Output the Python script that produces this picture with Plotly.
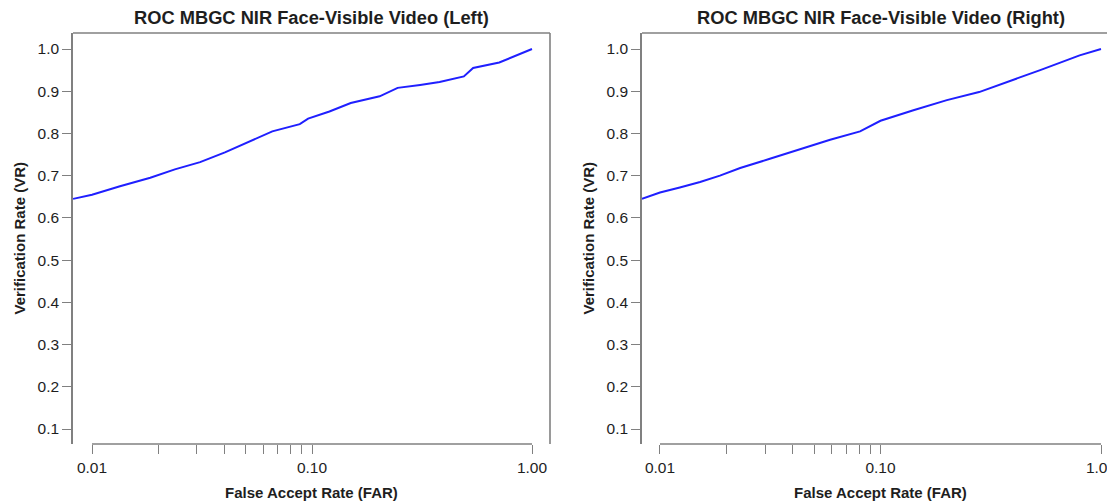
import math
import plotly.graph_objs as go
from plotly.subplots import make_subplots

# Left eye curve (FAR, VR)
far_left = [0.0082, 0.01, 0.0134, 0.0184, 0.0238, 0.031, 0.0402, 0.052, 0.066, 0.088,
            0.096, 0.12, 0.15, 0.203, 0.245, 0.31, 0.38, 0.49, 0.54, 0.71, 1.0]
vr_left = [0.645, 0.655, 0.675, 0.695, 0.715, 0.732, 0.755, 0.780, 0.805, 0.822,
           0.835, 0.852, 0.872, 0.888, 0.908, 0.915, 0.922, 0.935, 0.955, 0.968, 1.0]

# Right eye curve
far_right = [0.00828, 0.01, 0.0123, 0.0152, 0.0187, 0.0231, 0.0315, 0.0431, 0.0591, 0.0808,
             0.1, 0.141, 0.2, 0.28, 0.37, 0.53, 0.80, 1.0]
vr_right = [0.645, 0.66, 0.672, 0.685, 0.700, 0.718, 0.740, 0.762, 0.785, 0.805,
            0.83, 0.855, 0.879, 0.898, 0.92, 0.95, 0.985, 1.0]

x_ticks = [0.01, 0.02, 0.03, 0.04, 0.05, 0.06, 0.07, 0.08, 0.09, 0.1, 1.0]
x_labels = ["0.01", "", "", "", "", "", "", "", "", "0.10", "1.00"]
y_ticks = [0.1, 0.2, 0.3, 0.4, 0.5, 0.6, 0.7, 0.8, 0.9, 1.0]
titles = ["ROC MBGC NIR Face-Visible Video (Left)", "ROC MBGC NIR Face-Visible Video (Right)"]

# the page body has an 8px margin, so the figure is drawn from (8, 8)
OFF = 8
W, H = 1115 - OFF, 504 - OFF
FONT = "Liberation Sans, Arial, sans-serif"
GREY = "#808080"
TXT = "#1e1e1e"

# page-pixel layout of the two plot boxes
boxes = [(73, 550), (642, 1119)]
top_px, bot_px = 33, 444
x_ranges = [[-2.0864, 0.0818], [-2.0816, 0.0635]]
y_range = [0.0645, 1.0379]


def px(v):
    return (v - OFF) / W


def py(v):
    return 1 - (v - OFF) / H


fig = make_subplots(rows=1, cols=2)
fig.add_trace(go.Scatter(x=far_left, y=vr_left, mode="lines",
                         line=dict(color="#1f1fff", width=2)), row=1, col=1)
fig.add_trace(go.Scatter(x=far_right, y=vr_right, mode="lines",
                         line=dict(color="#1f1fff", width=2)), row=1, col=2)

ydom = [py(bot_px), py(top_px)]
shapes = []
annotations = []
for i in range(2):
    xa = "xaxis" if i == 0 else "xaxis2"
    ya = "yaxis" if i == 0 else "yaxis2"
    xr = "x" if i == 0 else "x2"
    yr = "y" if i == 0 else "y2"
    l, r = boxes[i]
    fig.layout[xa].update(domain=[px(l), min(px(r), 1.0)], type="log", range=x_ranges[i],
                          tickvals=x_ticks, ticktext=x_labels, ticks="outside",
                          ticklen=9, tickwidth=1.3, tickcolor=GREY, showline=False,
                          showgrid=False, zeroline=False, ticklabeloverflow="allow",
                          tickfont=dict(family=FONT, size=15.5, color=TXT))
    fig.layout[ya].update(domain=ydom, range=y_range, tickvals=y_ticks,
                          tickformat=".1f", ticks="outside", ticklen=9, tickwidth=1.3,
                          tickcolor=GREY, showline=True, linecolor=GREY, linewidth=1.6,
                          showgrid=False, zeroline=False,
                          tickfont=dict(family=FONT, size=15.5, color=TXT))
    # frame: top and right sides
    shapes.append(dict(type="line", xref=xr + " domain", yref=yr + " domain",
                       x0=0, x1=1, y0=1, y1=1, line=dict(color=GREY, width=1.6)))
    shapes.append(dict(type="line", xref=xr + " domain", yref=yr + " domain",
                       x0=1, x1=1, y0=0, y1=1, line=dict(color=GREY, width=1.6)))
    # x axis line between first and last tick
    lo, hi = x_ranges[i]
    f0 = (math.log10(x_ticks[0]) - lo) / (hi - lo)
    f1 = (math.log10(x_ticks[-1]) - lo) / (hi - lo)
    shapes.append(dict(type="line", xref=xr + " domain", yref=yr + " domain",
                       x0=f0, x1=f1, y0=0, y1=0, line=dict(color=GREY, width=1.6)))
    cx = px((l + r) / 2)
    annotations.append(dict(text="<b>" + titles[i] + "</b>", x=cx, y=py(17),
                            xref="paper", yref="paper", showarrow=False,
                            xanchor="center", yanchor="middle",
                            font=dict(family=FONT, size=18.3, color=TXT)))
    annotations.append(dict(text="<b>False Accept Rate (FAR)</b>", x=cx, y=py(492),
                            xref="paper", yref="paper", showarrow=False,
                            xanchor="center", yanchor="middle",
                            font=dict(family=FONT, size=15, color=TXT)))
    annotations.append(dict(text="<b>Verification Rate (VR)</b>", x=px(l - 54),
                            y=py((top_px + bot_px) / 2), xref="paper", yref="paper",
                            showarrow=False, textangle=-90, xanchor="center",
                            yanchor="middle", font=dict(family=FONT, size=15, color=TXT)))

fig.update_layout(width=W, height=H, margin=dict(l=0, r=0, t=0, b=0),
                  plot_bgcolor="white", paper_bgcolor="white", showlegend=False,
                  shapes=shapes, annotations=annotations)

fig.write_html("out.html")
